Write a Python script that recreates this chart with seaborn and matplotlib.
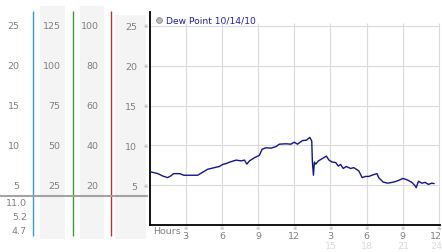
import matplotlib
matplotlib.use("Agg")
import matplotlib.pyplot as plt
import matplotlib.transforms as mtransforms
from matplotlib.patches import Rectangle
import seaborn as sns
import pandas as pd

# ---------------- data ----------------
hours = [0.0, 0.3, 0.7, 1.1, 1.5, 1.75, 2.0, 2.5, 2.85, 3.45, 4.0, 4.27, 4.82, 5.37, 5.8,
         6.06, 6.42, 6.64, 7.19, 7.6, 7.87, 8.07, 8.29, 8.7, 8.97, 9.11, 9.33, 9.66, 10.07,
         10.49, 10.76, 11.31, 11.72, 12.0, 12.27, 12.68, 13.01, 13.29, 13.45, 13.5, 13.59,
         13.67, 13.78, 14.0, 14.33, 14.66, 14.88, 15.15, 15.43, 15.65, 15.84, 16.06, 16.31,
         16.67, 16.94, 17.35, 17.63, 17.9, 18.18, 18.53, 18.86, 19.0, 19.36, 19.74, 20.1,
         20.38, 20.73, 21.01, 21.39, 21.75, 22.03, 22.11, 22.3, 22.57, 22.85, 23.12, 23.4, 23.6]
dew_point = [6.7, 6.6, 6.45, 6.15, 5.95, 6.15, 6.45, 6.45, 6.25, 6.25, 6.25, 6.5, 7.0, 7.2, 7.35,
             7.6, 7.75, 7.9, 8.15, 8.05, 8.15, 7.65, 8.05, 8.45, 8.65, 8.75, 9.5, 9.7, 9.65,
             9.85, 10.15, 10.2, 10.15, 10.4, 10.15, 10.6, 10.65, 11.0, 10.55, 8.05, 6.25,
             7.9, 7.65, 8.05, 8.35, 8.65, 8.15, 7.9, 7.85, 7.4, 7.6, 7.1, 7.35,
             7.1, 7.2, 6.8, 5.95, 6.1, 6.1, 6.3, 6.45, 5.95, 5.4, 5.25, 5.35,
             5.45, 5.65, 5.85, 5.65, 5.35, 4.9, 4.7, 5.5, 5.25, 5.35, 5.1, 5.25, 5.2]
series_label = "Dew Point 10/14/10"

y_ticks = [5, 10, 15, 20, 25]
y_labels = ["5", "10", "15", "20", "25"]
scale_col1 = ["5", "10", "15", "20", "25"]
scale_col2 = ["25", "50", "75", "100", "125"]
scale_col3 = ["20", "40", "60", "80", "100"]
summary_values = ["11.0", "5.2", "4.7"]

x_ticks = [3, 6, 9, 12, 15, 18, 21, 24]
x_labels = ["3", "6", "9", "12", "3", "6", "9", "12"]
x_ticks_day2 = [15, 18, 21, 24]
x_labels_day2 = ["15", "18", "21", "24"]
x_title = "Hours"

# ---------------- style ----------------
sns.set_theme(style="white")
plt.rcParams['font.family'] = ['DejaVu Sans']

W, H = 442, 253
TXT = '#7f7f7f'
FS = 6.8

fig = plt.figure(figsize=(W / 100, H / 100), dpi=100)
fig.patch.set_facecolor('white')

# background overlay in pixel coordinates
bg = fig.add_axes([0, 0, 1, 1], zorder=0)
bg.set_xlim(0, W)
bg.set_ylim(H, 0)
bg.axis('off')

for x0, x1, y0 in [(40, 65, 7), (80, 104, 7), (115, 146, 16)]:
    bg.add_patch(Rectangle((x0, y0), x1 - x0, 240 - y0, facecolor='#f4f4f4', lw=0))
for x, c in [(33, '#2a9fd0'), (72.5, '#2ea02e'), (111, '#b03535')]:
    bg.plot([x, x], [12, 237], color=c, lw=1.0, solid_capstyle='butt')
bg.plot([0, 148], [197, 197], color='#a3a3a3', lw=1.5, solid_capstyle='butt')

# main axes
ax = fig.add_axes([149.5 / W, (H - 226) / H, (439 - 149.5) / W, (226 - 13) / H], zorder=2)
ax.patch.set_alpha(0)
df = pd.DataFrame({'hour': hours, 'dew': dew_point})
sns.lineplot(data=df, x='hour', y='dew', ax=ax, color='#13138f', lw=1.0, zorder=3)
ax.set_xlim(0, 24)
ax.set_ylim(0, 26.75)
ax.set_xlabel('')
ax.set_ylabel('')

ax.hlines(y_ticks, 0, 24, color='#dadada', lw=0.8, zorder=1, clip_on=False)
ax.vlines(x_ticks, 0, 25.4, color='#dadada', lw=0.8, zorder=1, clip_on=False)

for s in ['top', 'right']:
    ax.spines[s].set_visible(False)
for s in ['left', 'bottom']:
    ax.spines[s].set_color('black')
    ax.spines[s].set_linewidth(1.3)
ax.spines['bottom'].set_bounds(0, 24.1)

ax.set_yticks(y_ticks)
ax.set_yticklabels(y_labels)
ax.tick_params(axis='y', length=0, pad=9, labelsize=FS, labelcolor=TXT)
ax.set_xticks(x_ticks)
ax.set_xticklabels(x_labels)
ax.tick_params(axis='x', length=0, pad=4.2, labelsize=FS, labelcolor=TXT)

# nudge the last label so it stays inside the image, as in the reference
shift = mtransforms.ScaledTranslation(-3 / 100, 0, fig.dpi_scale_trans)
last = ax.get_xticklabels()[-1]
last.set_transform(last.get_transform() + shift)

# blended transforms: x in pixels / y in data, and x in data / y in pixels
px_y = mtransforms.blended_transform_factory(bg.transData, ax.transData)
data_x = mtransforms.blended_transform_factory(ax.transData, bg.transData)

for v in y_ticks:
    bg.text(145.5, v, '\u203b', transform=px_y, ha='center', va='center', fontsize=3.8, color='#a0a0a0')
for v in x_ticks:
    bg.text(v, 228.5, '\u203b', transform=data_x, ha='center', va='center', fontsize=3.8, color='#a0a0a0')

# left scales
for v, l1, l2, l3 in zip(y_ticks, scale_col1, scale_col2, scale_col3):
    bg.text(19.5, v, l1, transform=px_y, ha='right', va='center', fontsize=FS, color=TXT)
    bg.text(60.5, v, l2, transform=px_y, ha='right', va='center', fontsize=FS, color=TXT)
    bg.text(98.5, v, l3, transform=px_y, ha='right', va='center', fontsize=FS, color=TXT)

for yy, s in zip([204, 218, 231.5], summary_values):
    bg.text(27, yy, s, ha='right', va='center', fontsize=FS, color=TXT)

# x axis extras
bg.text(153, 231.5, x_title, ha='left', va='center', fontsize=FS, color=TXT)
for v, s in zip(x_ticks_day2, x_labels_day2):
    t = bg.text(v, 246.5, s, transform=data_x, ha='center', va='center', fontsize=FS, color='#d9d9d9')
    if v == x_ticks_day2[-1]:
        t.set_transform(data_x + shift)

# legend
bg.plot([159], [21], marker='o', ms=4.2, mfc='#b8b8b8', mec='#8c8c8c', mew=0.6)
bg.text(165.5, 21, series_label, ha='left', va='center', fontsize=6.6, color='#1f1fa8')

fig.savefig('out.png', dpi=100, facecolor='white')
